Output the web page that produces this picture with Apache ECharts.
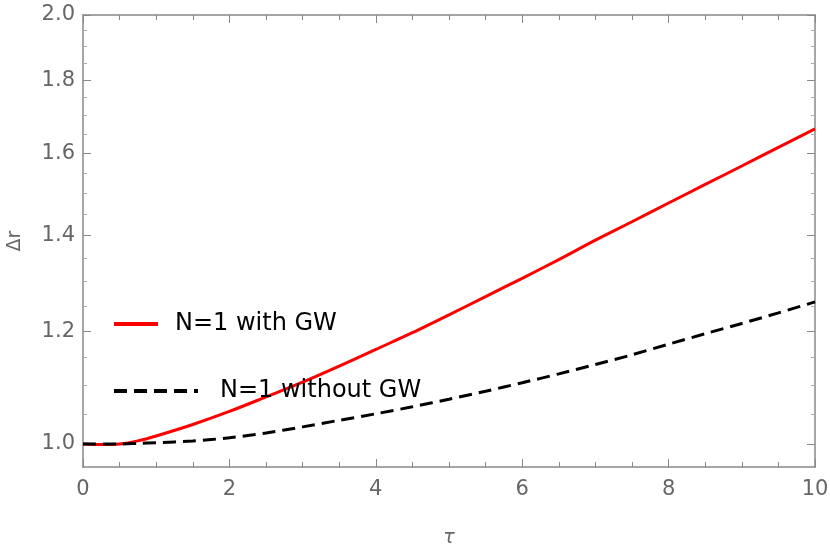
<!DOCTYPE html>
<html>
<head>
<meta charset="utf-8">
<style>
  html, body { margin: 0; padding: 0; background: #fff; }
  #chart { width: 830px; height: 551px; }
</style>
<script src="https://cdn.jsdelivr.net/npm/echarts@6/dist/echarts.min.js"></script>
</head>
<body>
<div id="chart"></div>
<script>
// tau samples and the two curves
const tau = [0, 0.25, 0.5, 0.75, 1, 1.5, 2, 2.5, 3, 3.5, 4, 4.5, 5, 5.5, 6, 6.5, 7, 7.5, 8, 8.5, 9, 9.5, 10];
const withGW = [1.000, 0.999, 1.000, 1.005, 1.013, 1.032, 1.054, 1.079, 1.105, 1.134, 1.165, 1.197, 1.232,
  1.269, 1.307, 1.347, 1.390, 1.432, 1.476, 1.521, 1.567, 1.615, 1.664];
const withoutGW = [1.000, 1.000, 1.000, 1.001, 1.002, 1.005, 1.010, 1.018, 1.028, 1.039, 1.050, 1.062, 1.075,
  1.089, 1.104, 1.120, 1.137, 1.155, 1.175, 1.195, 1.215, 1.236, 1.258];

const seriesNames = ["N=1 with GW", "N=1 without GW"];
const yMajorTicks = [1.0, 1.2, 1.4, 1.6, 1.8, 2.0];
const yMinorTicks = [1.05, 1.1, 1.15, 1.25, 1.3, 1.35, 1.45, 1.5, 1.55, 1.65, 1.7, 1.75, 1.85, 1.9, 1.95];
const yRange = [0.9635, 2.0];

// y axis is logarithmic: plot log10 of the values on a linear axis
const lg = (v) => Math.log10(v);
const toPoints = (ys) => tau.map((t, i) => [t, lg(ys[i])]);

const FONT = "DejaVu Sans";
const FRAME = "#888";
const LABEL = "#666";

function yAxisDef(position, ticks, length, withLabels, withLine) {
  return {
    type: "value",
    position,
    min: lg(yRange[0]),
    max: lg(yRange[1]),
    name: withLabels ? "Δr" : "",
    nameLocation: "middle",
    nameRotate: 90,
    nameGap: 58,
    nameTextStyle: { color: LABEL, fontFamily: FONT, fontSize: 19 },
    axisLine: { show: withLine, onZero: false, lineStyle: { color: FRAME, width: 1.5 } },
    axisTick: {
      show: true,
      inside: true,
      length,
      customValues: ticks.map(lg),
      lineStyle: { color: length > 5 ? FRAME : "#aaa", width: 1 },
    },
    axisLabel: {
      show: withLabels,
      customValues: ticks.map(lg),
      formatter: (v) => Math.pow(10, v).toFixed(1),
      color: LABEL,
      fontFamily: FONT,
      fontSize: 21,
      margin: 8,
    },
    splitLine: { show: false },
  };
}

function xAxisDef(position, withLabels) {
  return {
    type: "value",
    position,
    min: 0,
    max: 10,
    interval: 2,
    name: withLabels ? "τ" : "",
    nameLocation: "middle",
    nameGap: 62,
    nameTextStyle: { color: LABEL, fontFamily: FONT, fontSize: 19, fontStyle: "italic" },
    axisLine: { show: true, onZero: false, lineStyle: { color: FRAME, width: 1.5 } },
    axisTick: { show: true, inside: true, length: 8, lineStyle: { color: FRAME } },
    minorTick: { show: true, splitNumber: 4, length: 5, lineStyle: { color: FRAME } },
    axisLabel: { show: withLabels, color: LABEL, fontFamily: FONT, fontSize: 21, margin: 12 },
    splitLine: { show: false },
  };
}

function legendDef(name, top, itemWidth, textGap) {
  return {
    data: [name],
    left: 112,
    top,
    padding: 0,
    itemWidth,
    itemHeight: 14,
    itemStyle: { opacity: 0 },
    lineStyle: { width: 4 },
    textStyle: { color: "#000", fontFamily: FONT, fontSize: 24, padding: [0, 0, 0, textGap] },
  };
}

const chart = echarts.init(document.getElementById("chart"));
chart.setOption({
  animation: false,
  backgroundColor: "#fff",
  grid: { left: 83, right: 15, top: 15, bottom: 84, containLabel: false, outerBoundsMode: "none" },
  legend: [
    legendDef(seriesNames[0], 312, 44, 12),
    legendDef(seriesNames[1], 379, 84, 17),
  ],
  xAxis: [xAxisDef("bottom", true), xAxisDef("top", false)],
  yAxis: [
    yAxisDef("left", yMajorTicks, 8, true, true),
    yAxisDef("left", yMinorTicks, 4, false, false),
    yAxisDef("right", yMajorTicks, 8, false, true),
    yAxisDef("right", yMinorTicks, 4, false, false),
  ],
  series: [
    {
      name: seriesNames[0],
      type: "line",
      data: toPoints(withGW),
      smooth: 0.3,
      symbol: "none",
      lineStyle: { color: "#ff0000", width: 3 },
      itemStyle: { color: "#ff0000" },
    },
    {
      name: seriesNames[1],
      type: "line",
      data: toPoints(withoutGW),
      smooth: 0.3,
      symbol: "none",
      lineStyle: { color: "#000", width: 3, type: [13, 7] },
      itemStyle: { color: "#000" },
    },
  ],
});
</script>
</body>
</html>
